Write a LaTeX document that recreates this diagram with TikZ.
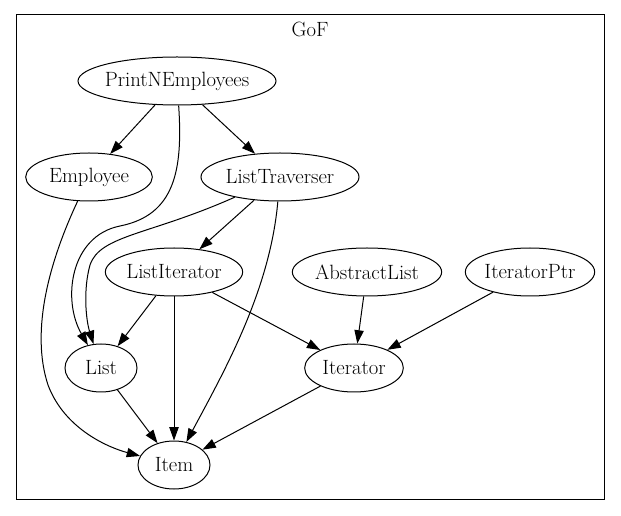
\documentclass[tikz,border=0pt]{standalone}
\usetikzlibrary{shapes.geometric,arrows.meta}

\tikzset{
  gnode/.style={ellipse, draw, line width=0.75pt, inner sep=0pt, minimum height=36pt},
  dep/.style={-{Triangle[length=10pt,width=7pt]}, line width=0.75pt},
  every label/.style={font=\fontsize{15.5}{18}\selectfont},
}

\begin{document}
\begin{tikzpicture}[x=0.75pt, y=-0.75pt]
        \useasboundingbox (0,0) rectangle (621,516);
        % cluster
        \draw[line width=0.75pt] (16,15) rectangle (604,499);
        \node[font=\fontsize{15.5}{18}\selectfont] (gof) at (310,29) {GoF};

        \node[gnode, minimum width=148.5pt, label=center:PrintNEmployees] (pne) at (177,81) {};
        \node[gnode, minimum width=95pt, label=center:Employee] (emp) at (89,177) {};
        \node[gnode, minimum width=118.5pt, label=center:ListTraverser] (trav) at (280,177) {};
        \node[gnode, minimum width=103pt, label=center:ListIterator] (liter) at (174,272) {};
        \node[gnode, minimum width=112pt, label=center:AbstractList] (alist) at (367,272) {};
        \node[gnode, minimum width=97pt, label=center:IteratorPtr] (iptr) at (530,272) {};
        \node[gnode, minimum width=54pt, label=center:List] (list) at (101,368) {};
        \node[gnode, minimum width=74pt, label=center:Iterator] (iter) at (354,368) {};
        \node[gnode, minimum width=54pt, label=center:Item] (item) at (174,465) {};

        \draw[dep] (pne) -- (emp);
        \draw[dep] (pne) -- (trav);
        \draw[dep] (pne) .. controls (183,170) and (175,215) .. (120,226)
                         .. controls (70,236) and (62,300) .. (list);
        \draw[dep] (emp) .. controls (50,260) and (30,330) .. (48,385)
                         .. controls (65,430) and (110,448) .. (item);
        \draw[dep] (trav) -- (liter);
        \draw[dep] (trav) .. controls (150,235) and (100,235) .. (90,265)
                          .. controls (83,290) and (86,320) .. (list);
        \draw[dep] (trav) .. controls (270,290) and (225,370) .. (item);
        \draw[dep] (liter) -- (list);
        \draw[dep] (liter) -- (item);
        \draw[dep] (liter) -- (iter);
        \draw[dep] (alist) -- (iter);
        \draw[dep] (iptr) -- (iter);
        \draw[dep] (list) -- (item);
        \draw[dep] (iter) -- (item);
    \end{tikzpicture}
\end{document}
